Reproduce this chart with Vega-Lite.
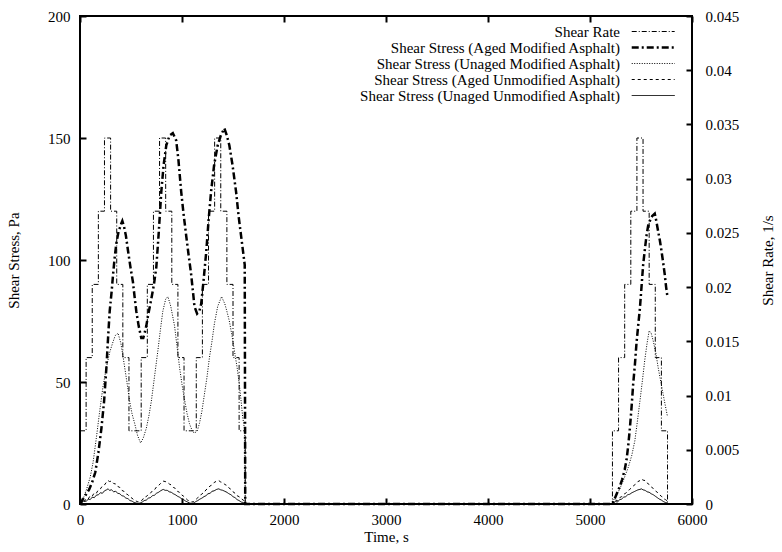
{
"$schema": "https://vega.github.io/schema/vega-lite/v6.json",
"width": 612, "height": 488,
"autosize": "none",
"padding": {"left": 80, "top": 16, "right": 90, "bottom": 48},
"config": {
  "font": "Liberation Serif",
  "view": {"stroke": "black", "strokeWidth": 2},
  "axis": {"grid": false, "domain": false, "zindex": 2, "ticks": true, "tickColor": "black", "tickWidth": 2, "tickSize": 6, "offset": -6,
           "labelFontSize": 15, "labelColor": "black", "titleFontSize": 15, "titleColor": "black",
           "titleFontWeight": "normal", "labelPadding": 8, "labelFlush": false}
},
"datasets": {
"rate": [
{"t":0,"v":0.00675},{"t":60,"v":0.0135},{"t":120,"v":0.02025},{"t":180,"v":0.027},{"t":240,"v":0.03375},{"t":300,"v":0.027},{"t":360,"v":0.02025},{"t":420,"v":0.0135},{"t":480,"v":0.00675},
{"t":540,"v":0.00675},{"t":600,"v":0.0135},{"t":660,"v":0.02025},{"t":720,"v":0.027},{"t":780,"v":0.03375},{"t":840,"v":0.027},{"t":900,"v":0.02025},{"t":960,"v":0.0135},{"t":1020,"v":0.00675},
{"t":1080,"v":0.00675},{"t":1140,"v":0.0135},{"t":1200,"v":0.02025},{"t":1260,"v":0.027},{"t":1320,"v":0.03375},{"t":1380,"v":0.027},{"t":1440,"v":0.02025},{"t":1500,"v":0.0135},{"t":1560,"v":0.00675},
{"t":1620,"v":0},
{"t":5220,"v":0.00675},{"t":5280,"v":0.0135},{"t":5340,"v":0.02025},{"t":5400,"v":0.027},{"t":5460,"v":0.03375},{"t":5520,"v":0.027},{"t":5580,"v":0.02025},{"t":5640,"v":0.0135},{"t":5700,"v":0.00675},{"t":5760,"v":0}
],
"stress": [
{"s":"Shear Stress (Aged Modified Asphalt)","t":0,"v":0},{"s":"Shear Stress (Aged Modified Asphalt)","t":30,"v":2},{"s":"Shear Stress (Aged Modified Asphalt)","t":60,"v":4},{"s":"Shear Stress (Aged Modified Asphalt)","t":90,"v":6},{"s":"Shear Stress (Aged Modified Asphalt)","t":120,"v":9},{"s":"Shear Stress (Aged Modified Asphalt)","t":150,"v":13},{"s":"Shear Stress (Aged Modified Asphalt)","t":180,"v":21},{"s":"Shear Stress (Aged Modified Asphalt)","t":210,"v":31},{"s":"Shear Stress (Aged Modified Asphalt)","t":236,"v":42},{"s":"Shear Stress (Aged Modified Asphalt)","t":259,"v":56},{"s":"Shear Stress (Aged Modified Asphalt)","t":275,"v":68},{"s":"Shear Stress (Aged Modified Asphalt)","t":291,"v":79},{"s":"Shear Stress (Aged Modified Asphalt)","t":310,"v":87},{"s":"Shear Stress (Aged Modified Asphalt)","t":324,"v":94},{"s":"Shear Stress (Aged Modified Asphalt)","t":340,"v":101},{"s":"Shear Stress (Aged Modified Asphalt)","t":357,"v":107},{"s":"Shear Stress (Aged Modified Asphalt)","t":375,"v":111},{"s":"Shear Stress (Aged Modified Asphalt)","t":389,"v":113},{"s":"Shear Stress (Aged Modified Asphalt)","t":405,"v":115},{"s":"Shear Stress (Aged Modified Asphalt)","t":415,"v":116},{"s":"Shear Stress (Aged Modified Asphalt)","t":430,"v":114},{"s":"Shear Stress (Aged Modified Asphalt)","t":450,"v":110},{"s":"Shear Stress (Aged Modified Asphalt)","t":470,"v":104},{"s":"Shear Stress (Aged Modified Asphalt)","t":495,"v":97},{"s":"Shear Stress (Aged Modified Asphalt)","t":519,"v":91},{"s":"Shear Stress (Aged Modified Asphalt)","t":535,"v":85},{"s":"Shear Stress (Aged Modified Asphalt)","t":552,"v":79},{"s":"Shear Stress (Aged Modified Asphalt)","t":575,"v":73},{"s":"Shear Stress (Aged Modified Asphalt)","t":601,"v":68},{"s":"Shear Stress (Aged Modified Asphalt)","t":620,"v":68},{"s":"Shear Stress (Aged Modified Asphalt)","t":633,"v":70},{"s":"Shear Stress (Aged Modified Asphalt)","t":650,"v":73},{"s":"Shear Stress (Aged Modified Asphalt)","t":666,"v":77},{"s":"Shear Stress (Aged Modified Asphalt)","t":699,"v":84},{"s":"Shear Stress (Aged Modified Asphalt)","t":725,"v":90},{"s":"Shear Stress (Aged Modified Asphalt)","t":748,"v":97},{"s":"Shear Stress (Aged Modified Asphalt)","t":770,"v":110},{"s":"Shear Stress (Aged Modified Asphalt)","t":797,"v":128},{"s":"Shear Stress (Aged Modified Asphalt)","t":820,"v":139},{"s":"Shear Stress (Aged Modified Asphalt)","t":846,"v":147},{"s":"Shear Stress (Aged Modified Asphalt)","t":878,"v":151},{"s":"Shear Stress (Aged Modified Asphalt)","t":910,"v":152},{"s":"Shear Stress (Aged Modified Asphalt)","t":943,"v":149},{"s":"Shear Stress (Aged Modified Asphalt)","t":965,"v":141},{"s":"Shear Stress (Aged Modified Asphalt)","t":992,"v":128},{"s":"Shear Stress (Aged Modified Asphalt)","t":1015,"v":119},{"s":"Shear Stress (Aged Modified Asphalt)","t":1041,"v":110},{"s":"Shear Stress (Aged Modified Asphalt)","t":1065,"v":102},{"s":"Shear Stress (Aged Modified Asphalt)","t":1090,"v":94},{"s":"Shear Stress (Aged Modified Asphalt)","t":1110,"v":86},{"s":"Shear Stress (Aged Modified Asphalt)","t":1122,"v":81},{"s":"Shear Stress (Aged Modified Asphalt)","t":1148,"v":78},{"s":"Shear Stress (Aged Modified Asphalt)","t":1170,"v":79},{"s":"Shear Stress (Aged Modified Asphalt)","t":1188,"v":82},{"s":"Shear Stress (Aged Modified Asphalt)","t":1210,"v":91},{"s":"Shear Stress (Aged Modified Asphalt)","t":1237,"v":103},{"s":"Shear Stress (Aged Modified Asphalt)","t":1260,"v":116},{"s":"Shear Stress (Aged Modified Asphalt)","t":1285,"v":128},{"s":"Shear Stress (Aged Modified Asphalt)","t":1315,"v":139},{"s":"Shear Stress (Aged Modified Asphalt)","t":1350,"v":147},{"s":"Shear Stress (Aged Modified Asphalt)","t":1380,"v":151},{"s":"Shear Stress (Aged Modified Asphalt)","t":1415,"v":154},{"s":"Shear Stress (Aged Modified Asphalt)","t":1440,"v":151},{"s":"Shear Stress (Aged Modified Asphalt)","t":1464,"v":147},{"s":"Shear Stress (Aged Modified Asphalt)","t":1495,"v":139},{"s":"Shear Stress (Aged Modified Asphalt)","t":1530,"v":128},{"s":"Shear Stress (Aged Modified Asphalt)","t":1555,"v":118},{"s":"Shear Stress (Aged Modified Asphalt)","t":1579,"v":110},{"s":"Shear Stress (Aged Modified Asphalt)","t":1600,"v":103},{"s":"Shear Stress (Aged Modified Asphalt)","t":1615,"v":98},{"s":"Shear Stress (Aged Modified Asphalt)","t":1620,"v":0},
{"s":"Shear Stress (Aged Modified Asphalt)","t":5210,"v":0},{"s":"Shear Stress (Aged Modified Asphalt)","t":5230,"v":1},{"s":"Shear Stress (Aged Modified Asphalt)","t":5250,"v":3},{"s":"Shear Stress (Aged Modified Asphalt)","t":5270,"v":5},{"s":"Shear Stress (Aged Modified Asphalt)","t":5290,"v":7},{"s":"Shear Stress (Aged Modified Asphalt)","t":5315,"v":10},{"s":"Shear Stress (Aged Modified Asphalt)","t":5340,"v":14},{"s":"Shear Stress (Aged Modified Asphalt)","t":5358,"v":18},{"s":"Shear Stress (Aged Modified Asphalt)","t":5375,"v":24},{"s":"Shear Stress (Aged Modified Asphalt)","t":5391,"v":31},{"s":"Shear Stress (Aged Modified Asphalt)","t":5408,"v":40},{"s":"Shear Stress (Aged Modified Asphalt)","t":5423,"v":49},{"s":"Shear Stress (Aged Modified Asphalt)","t":5440,"v":57},{"s":"Shear Stress (Aged Modified Asphalt)","t":5456,"v":66},{"s":"Shear Stress (Aged Modified Asphalt)","t":5472,"v":73},{"s":"Shear Stress (Aged Modified Asphalt)","t":5489,"v":80},{"s":"Shear Stress (Aged Modified Asphalt)","t":5505,"v":89},{"s":"Shear Stress (Aged Modified Asphalt)","t":5521,"v":98},{"s":"Shear Stress (Aged Modified Asphalt)","t":5537,"v":104},{"s":"Shear Stress (Aged Modified Asphalt)","t":5554,"v":110},{"s":"Shear Stress (Aged Modified Asphalt)","t":5570,"v":114},{"s":"Shear Stress (Aged Modified Asphalt)","t":5587,"v":116},{"s":"Shear Stress (Aged Modified Asphalt)","t":5610,"v":118},{"s":"Shear Stress (Aged Modified Asphalt)","t":5635,"v":119},{"s":"Shear Stress (Aged Modified Asphalt)","t":5650,"v":116},{"s":"Shear Stress (Aged Modified Asphalt)","t":5667,"v":112},{"s":"Shear Stress (Aged Modified Asphalt)","t":5685,"v":108},{"s":"Shear Stress (Aged Modified Asphalt)","t":5700,"v":104},{"s":"Shear Stress (Aged Modified Asphalt)","t":5717,"v":99},{"s":"Shear Stress (Aged Modified Asphalt)","t":5733,"v":94},{"s":"Shear Stress (Aged Modified Asphalt)","t":5746,"v":89},{"s":"Shear Stress (Aged Modified Asphalt)","t":5759,"v":85},
{"s":"Shear Stress (Unaged Modified Asphalt)","t":0,"v":0},{"s":"Shear Stress (Unaged Modified Asphalt)","t":30,"v":2},{"s":"Shear Stress (Unaged Modified Asphalt)","t":64,"v":6},{"s":"Shear Stress (Unaged Modified Asphalt)","t":100,"v":11},{"s":"Shear Stress (Unaged Modified Asphalt)","t":128,"v":17},{"s":"Shear Stress (Unaged Modified Asphalt)","t":160,"v":27},{"s":"Shear Stress (Unaged Modified Asphalt)","t":193,"v":38},{"s":"Shear Stress (Unaged Modified Asphalt)","t":225,"v":48},{"s":"Shear Stress (Unaged Modified Asphalt)","t":259,"v":56},{"s":"Shear Stress (Unaged Modified Asphalt)","t":290,"v":62},{"s":"Shear Stress (Unaged Modified Asphalt)","t":320,"v":66},{"s":"Shear Stress (Unaged Modified Asphalt)","t":345,"v":69},{"s":"Shear Stress (Unaged Modified Asphalt)","t":373,"v":70},{"s":"Shear Stress (Unaged Modified Asphalt)","t":400,"v":66},{"s":"Shear Stress (Unaged Modified Asphalt)","t":420,"v":61},{"s":"Shear Stress (Unaged Modified Asphalt)","t":438,"v":56},{"s":"Shear Stress (Unaged Modified Asphalt)","t":460,"v":50},{"s":"Shear Stress (Unaged Modified Asphalt)","t":487,"v":42},{"s":"Shear Stress (Unaged Modified Asphalt)","t":510,"v":37},{"s":"Shear Stress (Unaged Modified Asphalt)","t":536,"v":33},{"s":"Shear Stress (Unaged Modified Asphalt)","t":565,"v":28},{"s":"Shear Stress (Unaged Modified Asphalt)","t":594,"v":25},{"s":"Shear Stress (Unaged Modified Asphalt)","t":620,"v":27},{"s":"Shear Stress (Unaged Modified Asphalt)","t":650,"v":31},{"s":"Shear Stress (Unaged Modified Asphalt)","t":675,"v":36},{"s":"Shear Stress (Unaged Modified Asphalt)","t":699,"v":42},{"s":"Shear Stress (Unaged Modified Asphalt)","t":730,"v":52},{"s":"Shear Stress (Unaged Modified Asphalt)","t":764,"v":63},{"s":"Shear Stress (Unaged Modified Asphalt)","t":790,"v":72},{"s":"Shear Stress (Unaged Modified Asphalt)","t":812,"v":79},{"s":"Shear Stress (Unaged Modified Asphalt)","t":840,"v":84},{"s":"Shear Stress (Unaged Modified Asphalt)","t":862,"v":85},{"s":"Shear Stress (Unaged Modified Asphalt)","t":890,"v":81},{"s":"Shear Stress (Unaged Modified Asphalt)","t":927,"v":73},{"s":"Shear Stress (Unaged Modified Asphalt)","t":950,"v":65},{"s":"Shear Stress (Unaged Modified Asphalt)","t":976,"v":56},{"s":"Shear Stress (Unaged Modified Asphalt)","t":1000,"v":49},{"s":"Shear Stress (Unaged Modified Asphalt)","t":1024,"v":43},{"s":"Shear Stress (Unaged Modified Asphalt)","t":1050,"v":37},{"s":"Shear Stress (Unaged Modified Asphalt)","t":1073,"v":33},{"s":"Shear Stress (Unaged Modified Asphalt)","t":1100,"v":30},{"s":"Shear Stress (Unaged Modified Asphalt)","t":1122,"v":29},{"s":"Shear Stress (Unaged Modified Asphalt)","t":1150,"v":30},{"s":"Shear Stress (Unaged Modified Asphalt)","t":1171,"v":33},{"s":"Shear Stress (Unaged Modified Asphalt)","t":1195,"v":38},{"s":"Shear Stress (Unaged Modified Asphalt)","t":1220,"v":45},{"s":"Shear Stress (Unaged Modified Asphalt)","t":1245,"v":52},{"s":"Shear Stress (Unaged Modified Asphalt)","t":1269,"v":60},{"s":"Shear Stress (Unaged Modified Asphalt)","t":1295,"v":67},{"s":"Shear Stress (Unaged Modified Asphalt)","t":1318,"v":74},{"s":"Shear Stress (Unaged Modified Asphalt)","t":1350,"v":81},{"s":"Shear Stress (Unaged Modified Asphalt)","t":1388,"v":85},{"s":"Shear Stress (Unaged Modified Asphalt)","t":1420,"v":82},{"s":"Shear Stress (Unaged Modified Asphalt)","t":1440,"v":79},{"s":"Shear Stress (Unaged Modified Asphalt)","t":1464,"v":75},{"s":"Shear Stress (Unaged Modified Asphalt)","t":1490,"v":69},{"s":"Shear Stress (Unaged Modified Asphalt)","t":1513,"v":63},{"s":"Shear Stress (Unaged Modified Asphalt)","t":1540,"v":56},{"s":"Shear Stress (Unaged Modified Asphalt)","t":1562,"v":49},{"s":"Shear Stress (Unaged Modified Asphalt)","t":1580,"v":42},{"s":"Shear Stress (Unaged Modified Asphalt)","t":1594,"v":36},{"s":"Shear Stress (Unaged Modified Asphalt)","t":1615,"v":30},{"s":"Shear Stress (Unaged Modified Asphalt)","t":1620,"v":0},
{"s":"Shear Stress (Unaged Modified Asphalt)","t":5210,"v":0},{"s":"Shear Stress (Unaged Modified Asphalt)","t":5250,"v":3},{"s":"Shear Stress (Unaged Modified Asphalt)","t":5290,"v":6},{"s":"Shear Stress (Unaged Modified Asphalt)","t":5330,"v":10},{"s":"Shear Stress (Unaged Modified Asphalt)","t":5375,"v":15},{"s":"Shear Stress (Unaged Modified Asphalt)","t":5410,"v":20},{"s":"Shear Stress (Unaged Modified Asphalt)","t":5440,"v":26},{"s":"Shear Stress (Unaged Modified Asphalt)","t":5465,"v":34},{"s":"Shear Stress (Unaged Modified Asphalt)","t":5489,"v":42},{"s":"Shear Stress (Unaged Modified Asphalt)","t":5515,"v":51},{"s":"Shear Stress (Unaged Modified Asphalt)","t":5537,"v":59},{"s":"Shear Stress (Unaged Modified Asphalt)","t":5560,"v":66},{"s":"Shear Stress (Unaged Modified Asphalt)","t":5580,"v":71},{"s":"Shear Stress (Unaged Modified Asphalt)","t":5600,"v":70},{"s":"Shear Stress (Unaged Modified Asphalt)","t":5619,"v":67},{"s":"Shear Stress (Unaged Modified Asphalt)","t":5645,"v":62},{"s":"Shear Stress (Unaged Modified Asphalt)","t":5668,"v":56},{"s":"Shear Stress (Unaged Modified Asphalt)","t":5690,"v":51},{"s":"Shear Stress (Unaged Modified Asphalt)","t":5717,"v":45},{"s":"Shear Stress (Unaged Modified Asphalt)","t":5740,"v":40},{"s":"Shear Stress (Unaged Modified Asphalt)","t":5759,"v":36},
{"s":"Shear Stress (Aged Unmodified Asphalt)","t":0,"v":0},{"s":"Shear Stress (Aged Unmodified Asphalt)","t":20,"v":1.2},{"s":"Shear Stress (Aged Unmodified Asphalt)","t":40,"v":0.8},{"s":"Shear Stress (Aged Unmodified Asphalt)","t":60,"v":2.2},{"s":"Shear Stress (Aged Unmodified Asphalt)","t":80,"v":2},{"s":"Shear Stress (Aged Unmodified Asphalt)","t":100,"v":3.4},{"s":"Shear Stress (Aged Unmodified Asphalt)","t":120,"v":3.2},{"s":"Shear Stress (Aged Unmodified Asphalt)","t":140,"v":4.6},{"s":"Shear Stress (Aged Unmodified Asphalt)","t":160,"v":4.4},{"s":"Shear Stress (Aged Unmodified Asphalt)","t":180,"v":5.8},{"s":"Shear Stress (Aged Unmodified Asphalt)","t":200,"v":6.2},{"s":"Shear Stress (Aged Unmodified Asphalt)","t":220,"v":7.4},{"s":"Shear Stress (Aged Unmodified Asphalt)","t":240,"v":7.8},{"s":"Shear Stress (Aged Unmodified Asphalt)","t":260,"v":9},{"s":"Shear Stress (Aged Unmodified Asphalt)","t":275,"v":9.6},{"s":"Shear Stress (Aged Unmodified Asphalt)","t":290,"v":9.2},{"s":"Shear Stress (Aged Unmodified Asphalt)","t":310,"v":9.4},{"s":"Shear Stress (Aged Unmodified Asphalt)","t":330,"v":8.4},{"s":"Shear Stress (Aged Unmodified Asphalt)","t":350,"v":8.2},{"s":"Shear Stress (Aged Unmodified Asphalt)","t":370,"v":7.2},{"s":"Shear Stress (Aged Unmodified Asphalt)","t":390,"v":6.8},{"s":"Shear Stress (Aged Unmodified Asphalt)","t":410,"v":5.6},{"s":"Shear Stress (Aged Unmodified Asphalt)","t":430,"v":5.2},{"s":"Shear Stress (Aged Unmodified Asphalt)","t":450,"v":4.2},{"s":"Shear Stress (Aged Unmodified Asphalt)","t":470,"v":3.8},{"s":"Shear Stress (Aged Unmodified Asphalt)","t":490,"v":2.8},{"s":"Shear Stress (Aged Unmodified Asphalt)","t":510,"v":2.4},{"s":"Shear Stress (Aged Unmodified Asphalt)","t":530,"v":1.6},{"s":"Shear Stress (Aged Unmodified Asphalt)","t":550,"v":1.2},{"s":"Shear Stress (Aged Unmodified Asphalt)","t":570,"v":0.8},{"s":"Shear Stress (Aged Unmodified Asphalt)","t":590,"v":1.2},{"s":"Shear Stress (Aged Unmodified Asphalt)","t":610,"v":1.6},{"s":"Shear Stress (Aged Unmodified Asphalt)","t":630,"v":2.8},{"s":"Shear Stress (Aged Unmodified Asphalt)","t":650,"v":3},{"s":"Shear Stress (Aged Unmodified Asphalt)","t":670,"v":4},{"s":"Shear Stress (Aged Unmodified Asphalt)","t":690,"v":4.4},{"s":"Shear Stress (Aged Unmodified Asphalt)","t":710,"v":5.4},{"s":"Shear Stress (Aged Unmodified Asphalt)","t":730,"v":5.8},{"s":"Shear Stress (Aged Unmodified Asphalt)","t":750,"v":7},{"s":"Shear Stress (Aged Unmodified Asphalt)","t":770,"v":7.6},{"s":"Shear Stress (Aged Unmodified Asphalt)","t":790,"v":8.4},{"s":"Shear Stress (Aged Unmodified Asphalt)","t":815,"v":9.4},{"s":"Shear Stress (Aged Unmodified Asphalt)","t":835,"v":9.2},{"s":"Shear Stress (Aged Unmodified Asphalt)","t":855,"v":9},{"s":"Shear Stress (Aged Unmodified Asphalt)","t":875,"v":8.2},{"s":"Shear Stress (Aged Unmodified Asphalt)","t":895,"v":7.8},{"s":"Shear Stress (Aged Unmodified Asphalt)","t":915,"v":6.8},{"s":"Shear Stress (Aged Unmodified Asphalt)","t":935,"v":6.4},{"s":"Shear Stress (Aged Unmodified Asphalt)","t":955,"v":5.2},{"s":"Shear Stress (Aged Unmodified Asphalt)","t":975,"v":4.8},{"s":"Shear Stress (Aged Unmodified Asphalt)","t":995,"v":3.8},{"s":"Shear Stress (Aged Unmodified Asphalt)","t":1015,"v":3.2},{"s":"Shear Stress (Aged Unmodified Asphalt)","t":1035,"v":2.4},{"s":"Shear Stress (Aged Unmodified Asphalt)","t":1055,"v":1.6},{"s":"Shear Stress (Aged Unmodified Asphalt)","t":1075,"v":1.2},{"s":"Shear Stress (Aged Unmodified Asphalt)","t":1095,"v":0.8},{"s":"Shear Stress (Aged Unmodified Asphalt)","t":1115,"v":1},{"s":"Shear Stress (Aged Unmodified Asphalt)","t":1135,"v":1.8},{"s":"Shear Stress (Aged Unmodified Asphalt)","t":1155,"v":2.6},{"s":"Shear Stress (Aged Unmodified Asphalt)","t":1175,"v":3.2},{"s":"Shear Stress (Aged Unmodified Asphalt)","t":1195,"v":4.2},{"s":"Shear Stress (Aged Unmodified Asphalt)","t":1215,"v":4.6},{"s":"Shear Stress (Aged Unmodified Asphalt)","t":1235,"v":5.8},{"s":"Shear Stress (Aged Unmodified Asphalt)","t":1255,"v":6.4},{"s":"Shear Stress (Aged Unmodified Asphalt)","t":1275,"v":7.4},{"s":"Shear Stress (Aged Unmodified Asphalt)","t":1295,"v":7.8},{"s":"Shear Stress (Aged Unmodified Asphalt)","t":1315,"v":8.8},{"s":"Shear Stress (Aged Unmodified Asphalt)","t":1340,"v":9.4},{"s":"Shear Stress (Aged Unmodified Asphalt)","t":1360,"v":9.6},{"s":"Shear Stress (Aged Unmodified Asphalt)","t":1380,"v":9},{"s":"Shear Stress (Aged Unmodified Asphalt)","t":1400,"v":8.8},{"s":"Shear Stress (Aged Unmodified Asphalt)","t":1420,"v":8},{"s":"Shear Stress (Aged Unmodified Asphalt)","t":1440,"v":7.6},{"s":"Shear Stress (Aged Unmodified Asphalt)","t":1460,"v":6.6},{"s":"Shear Stress (Aged Unmodified Asphalt)","t":1480,"v":6},{"s":"Shear Stress (Aged Unmodified Asphalt)","t":1500,"v":5},{"s":"Shear Stress (Aged Unmodified Asphalt)","t":1520,"v":4.4},{"s":"Shear Stress (Aged Unmodified Asphalt)","t":1540,"v":3.4},{"s":"Shear Stress (Aged Unmodified Asphalt)","t":1560,"v":3},{"s":"Shear Stress (Aged Unmodified Asphalt)","t":1580,"v":2.2},{"s":"Shear Stress (Aged Unmodified Asphalt)","t":1600,"v":1.6},{"s":"Shear Stress (Aged Unmodified Asphalt)","t":1615,"v":1.2},{"s":"Shear Stress (Aged Unmodified Asphalt)","t":1620,"v":0},
{"s":"Shear Stress (Aged Unmodified Asphalt)","t":5210,"v":0},{"s":"Shear Stress (Aged Unmodified Asphalt)","t":5230,"v":0.8},{"s":"Shear Stress (Aged Unmodified Asphalt)","t":5250,"v":1.6},{"s":"Shear Stress (Aged Unmodified Asphalt)","t":5270,"v":1.4},{"s":"Shear Stress (Aged Unmodified Asphalt)","t":5290,"v":2.6},{"s":"Shear Stress (Aged Unmodified Asphalt)","t":5310,"v":3},{"s":"Shear Stress (Aged Unmodified Asphalt)","t":5330,"v":4},{"s":"Shear Stress (Aged Unmodified Asphalt)","t":5350,"v":4.4},{"s":"Shear Stress (Aged Unmodified Asphalt)","t":5370,"v":5.4},{"s":"Shear Stress (Aged Unmodified Asphalt)","t":5390,"v":6},{"s":"Shear Stress (Aged Unmodified Asphalt)","t":5410,"v":6.8},{"s":"Shear Stress (Aged Unmodified Asphalt)","t":5430,"v":7.6},{"s":"Shear Stress (Aged Unmodified Asphalt)","t":5450,"v":8.2},{"s":"Shear Stress (Aged Unmodified Asphalt)","t":5470,"v":9.2},{"s":"Shear Stress (Aged Unmodified Asphalt)","t":5490,"v":9.6},{"s":"Shear Stress (Aged Unmodified Asphalt)","t":5505,"v":10.2},{"s":"Shear Stress (Aged Unmodified Asphalt)","t":5520,"v":9.8},{"s":"Shear Stress (Aged Unmodified Asphalt)","t":5540,"v":9.6},{"s":"Shear Stress (Aged Unmodified Asphalt)","t":5560,"v":8.6},{"s":"Shear Stress (Aged Unmodified Asphalt)","t":5580,"v":8},{"s":"Shear Stress (Aged Unmodified Asphalt)","t":5600,"v":7},{"s":"Shear Stress (Aged Unmodified Asphalt)","t":5620,"v":6.4},{"s":"Shear Stress (Aged Unmodified Asphalt)","t":5640,"v":5.4},{"s":"Shear Stress (Aged Unmodified Asphalt)","t":5660,"v":4.8},{"s":"Shear Stress (Aged Unmodified Asphalt)","t":5680,"v":3.8},{"s":"Shear Stress (Aged Unmodified Asphalt)","t":5700,"v":3.2},{"s":"Shear Stress (Aged Unmodified Asphalt)","t":5720,"v":2.2},{"s":"Shear Stress (Aged Unmodified Asphalt)","t":5740,"v":1.8},{"s":"Shear Stress (Aged Unmodified Asphalt)","t":5759,"v":1.2},
{"s":"Shear Stress (Unaged Unmodified Asphalt)","t":0,"v":0},{"s":"Shear Stress (Unaged Unmodified Asphalt)","t":20,"v":0.6},{"s":"Shear Stress (Unaged Unmodified Asphalt)","t":40,"v":1.4},{"s":"Shear Stress (Unaged Unmodified Asphalt)","t":60,"v":1},{"s":"Shear Stress (Unaged Unmodified Asphalt)","t":80,"v":2},{"s":"Shear Stress (Unaged Unmodified Asphalt)","t":100,"v":1.8},{"s":"Shear Stress (Unaged Unmodified Asphalt)","t":120,"v":2.8},{"s":"Shear Stress (Unaged Unmodified Asphalt)","t":140,"v":2.6},{"s":"Shear Stress (Unaged Unmodified Asphalt)","t":160,"v":3.6},{"s":"Shear Stress (Unaged Unmodified Asphalt)","t":180,"v":3.8},{"s":"Shear Stress (Unaged Unmodified Asphalt)","t":200,"v":4.6},{"s":"Shear Stress (Unaged Unmodified Asphalt)","t":220,"v":4.4},{"s":"Shear Stress (Unaged Unmodified Asphalt)","t":240,"v":5.4},{"s":"Shear Stress (Unaged Unmodified Asphalt)","t":260,"v":5.8},{"s":"Shear Stress (Unaged Unmodified Asphalt)","t":275,"v":6.2},{"s":"Shear Stress (Unaged Unmodified Asphalt)","t":290,"v":5.6},{"s":"Shear Stress (Unaged Unmodified Asphalt)","t":310,"v":5.8},{"s":"Shear Stress (Unaged Unmodified Asphalt)","t":330,"v":5},{"s":"Shear Stress (Unaged Unmodified Asphalt)","t":350,"v":5.2},{"s":"Shear Stress (Unaged Unmodified Asphalt)","t":370,"v":4.4},{"s":"Shear Stress (Unaged Unmodified Asphalt)","t":390,"v":4.2},{"s":"Shear Stress (Unaged Unmodified Asphalt)","t":410,"v":3.4},{"s":"Shear Stress (Unaged Unmodified Asphalt)","t":430,"v":3.2},{"s":"Shear Stress (Unaged Unmodified Asphalt)","t":450,"v":2.4},{"s":"Shear Stress (Unaged Unmodified Asphalt)","t":470,"v":2.2},{"s":"Shear Stress (Unaged Unmodified Asphalt)","t":490,"v":1.4},{"s":"Shear Stress (Unaged Unmodified Asphalt)","t":510,"v":1.2},{"s":"Shear Stress (Unaged Unmodified Asphalt)","t":530,"v":0.6},{"s":"Shear Stress (Unaged Unmodified Asphalt)","t":550,"v":0.4},{"s":"Shear Stress (Unaged Unmodified Asphalt)","t":570,"v":0.2},{"s":"Shear Stress (Unaged Unmodified Asphalt)","t":590,"v":0.4},{"s":"Shear Stress (Unaged Unmodified Asphalt)","t":610,"v":0.8},{"s":"Shear Stress (Unaged Unmodified Asphalt)","t":630,"v":1.4},{"s":"Shear Stress (Unaged Unmodified Asphalt)","t":650,"v":1.6},{"s":"Shear Stress (Unaged Unmodified Asphalt)","t":670,"v":2.4},{"s":"Shear Stress (Unaged Unmodified Asphalt)","t":690,"v":2.6},{"s":"Shear Stress (Unaged Unmodified Asphalt)","t":710,"v":3.4},{"s":"Shear Stress (Unaged Unmodified Asphalt)","t":730,"v":3.6},{"s":"Shear Stress (Unaged Unmodified Asphalt)","t":750,"v":4.4},{"s":"Shear Stress (Unaged Unmodified Asphalt)","t":770,"v":4.8},{"s":"Shear Stress (Unaged Unmodified Asphalt)","t":790,"v":5.4},{"s":"Shear Stress (Unaged Unmodified Asphalt)","t":815,"v":6},{"s":"Shear Stress (Unaged Unmodified Asphalt)","t":835,"v":5.6},{"s":"Shear Stress (Unaged Unmodified Asphalt)","t":855,"v":5.6},{"s":"Shear Stress (Unaged Unmodified Asphalt)","t":875,"v":5},{"s":"Shear Stress (Unaged Unmodified Asphalt)","t":895,"v":4.8},{"s":"Shear Stress (Unaged Unmodified Asphalt)","t":915,"v":4.2},{"s":"Shear Stress (Unaged Unmodified Asphalt)","t":935,"v":3.8},{"s":"Shear Stress (Unaged Unmodified Asphalt)","t":955,"v":3.2},{"s":"Shear Stress (Unaged Unmodified Asphalt)","t":975,"v":2.8},{"s":"Shear Stress (Unaged Unmodified Asphalt)","t":995,"v":2.2},{"s":"Shear Stress (Unaged Unmodified Asphalt)","t":1015,"v":1.8},{"s":"Shear Stress (Unaged Unmodified Asphalt)","t":1035,"v":1.2},{"s":"Shear Stress (Unaged Unmodified Asphalt)","t":1055,"v":0.8},{"s":"Shear Stress (Unaged Unmodified Asphalt)","t":1075,"v":0.4},{"s":"Shear Stress (Unaged Unmodified Asphalt)","t":1095,"v":0.2},{"s":"Shear Stress (Unaged Unmodified Asphalt)","t":1115,"v":0.4},{"s":"Shear Stress (Unaged Unmodified Asphalt)","t":1135,"v":1},{"s":"Shear Stress (Unaged Unmodified Asphalt)","t":1155,"v":1.4},{"s":"Shear Stress (Unaged Unmodified Asphalt)","t":1175,"v":2},{"s":"Shear Stress (Unaged Unmodified Asphalt)","t":1195,"v":2.4},{"s":"Shear Stress (Unaged Unmodified Asphalt)","t":1215,"v":3},{"s":"Shear Stress (Unaged Unmodified Asphalt)","t":1235,"v":3.4},{"s":"Shear Stress (Unaged Unmodified Asphalt)","t":1255,"v":4.2},{"s":"Shear Stress (Unaged Unmodified Asphalt)","t":1275,"v":4.4},{"s":"Shear Stress (Unaged Unmodified Asphalt)","t":1295,"v":5.2},{"s":"Shear Stress (Unaged Unmodified Asphalt)","t":1315,"v":5.4},{"s":"Shear Stress (Unaged Unmodified Asphalt)","t":1340,"v":6},{"s":"Shear Stress (Unaged Unmodified Asphalt)","t":1360,"v":6.2},{"s":"Shear Stress (Unaged Unmodified Asphalt)","t":1380,"v":5.8},{"s":"Shear Stress (Unaged Unmodified Asphalt)","t":1400,"v":5.6},{"s":"Shear Stress (Unaged Unmodified Asphalt)","t":1420,"v":5.2},{"s":"Shear Stress (Unaged Unmodified Asphalt)","t":1440,"v":4.8},{"s":"Shear Stress (Unaged Unmodified Asphalt)","t":1460,"v":4.2},{"s":"Shear Stress (Unaged Unmodified Asphalt)","t":1480,"v":3.8},{"s":"Shear Stress (Unaged Unmodified Asphalt)","t":1500,"v":3},{"s":"Shear Stress (Unaged Unmodified Asphalt)","t":1520,"v":2.6},{"s":"Shear Stress (Unaged Unmodified Asphalt)","t":1540,"v":1.8},{"s":"Shear Stress (Unaged Unmodified Asphalt)","t":1560,"v":1.4},{"s":"Shear Stress (Unaged Unmodified Asphalt)","t":1580,"v":0.8},{"s":"Shear Stress (Unaged Unmodified Asphalt)","t":1600,"v":0.6},{"s":"Shear Stress (Unaged Unmodified Asphalt)","t":1615,"v":0.4},{"s":"Shear Stress (Unaged Unmodified Asphalt)","t":1620,"v":0},
{"s":"Shear Stress (Unaged Unmodified Asphalt)","t":5210,"v":0},{"s":"Shear Stress (Unaged Unmodified Asphalt)","t":5230,"v":0.4},{"s":"Shear Stress (Unaged Unmodified Asphalt)","t":5250,"v":1},{"s":"Shear Stress (Unaged Unmodified Asphalt)","t":5270,"v":0.8},{"s":"Shear Stress (Unaged Unmodified Asphalt)","t":5290,"v":1.8},{"s":"Shear Stress (Unaged Unmodified Asphalt)","t":5310,"v":2},{"s":"Shear Stress (Unaged Unmodified Asphalt)","t":5330,"v":2.8},{"s":"Shear Stress (Unaged Unmodified Asphalt)","t":5350,"v":3},{"s":"Shear Stress (Unaged Unmodified Asphalt)","t":5370,"v":3.8},{"s":"Shear Stress (Unaged Unmodified Asphalt)","t":5390,"v":4},{"s":"Shear Stress (Unaged Unmodified Asphalt)","t":5410,"v":4.6},{"s":"Shear Stress (Unaged Unmodified Asphalt)","t":5430,"v":5},{"s":"Shear Stress (Unaged Unmodified Asphalt)","t":5450,"v":5.4},{"s":"Shear Stress (Unaged Unmodified Asphalt)","t":5470,"v":5.8},{"s":"Shear Stress (Unaged Unmodified Asphalt)","t":5490,"v":6},{"s":"Shear Stress (Unaged Unmodified Asphalt)","t":5505,"v":6.2},{"s":"Shear Stress (Unaged Unmodified Asphalt)","t":5520,"v":5.8},{"s":"Shear Stress (Unaged Unmodified Asphalt)","t":5540,"v":5.6},{"s":"Shear Stress (Unaged Unmodified Asphalt)","t":5560,"v":5},{"s":"Shear Stress (Unaged Unmodified Asphalt)","t":5580,"v":4.8},{"s":"Shear Stress (Unaged Unmodified Asphalt)","t":5600,"v":4.2},{"s":"Shear Stress (Unaged Unmodified Asphalt)","t":5620,"v":3.8},{"s":"Shear Stress (Unaged Unmodified Asphalt)","t":5640,"v":3.2},{"s":"Shear Stress (Unaged Unmodified Asphalt)","t":5660,"v":2.6},{"s":"Shear Stress (Unaged Unmodified Asphalt)","t":5680,"v":2},{"s":"Shear Stress (Unaged Unmodified Asphalt)","t":5700,"v":1.6},{"s":"Shear Stress (Unaged Unmodified Asphalt)","t":5720,"v":1},{"s":"Shear Stress (Unaged Unmodified Asphalt)","t":5740,"v":0.6},{"s":"Shear Stress (Unaged Unmodified Asphalt)","t":5759,"v":0.4}
]
},
"encoding": {
  "strokeDash": {"field": "s", "type": "nominal",
    "scale": {"domain": ["Shear Rate","Shear Stress (Aged Modified Asphalt)","Shear Stress (Unaged Modified Asphalt)","Shear Stress (Aged Unmodified Asphalt)","Shear Stress (Unaged Unmodified Asphalt)"],
              "range": [[5,2,1,2],[7,3,2,3],[1,1.5],[3,3],[1,0]]},
    "legend": {"title": null, "orient": "none", "legendX": 565.7, "legendY": 8, "labelAlign": "right", "labelOffset": -40.7,
               "symbolOffset": 0, "symbolType": "M -3.58 0 L 3.58 0", "symbolSize": 144, "rowPadding": 0,
               "labelFontSize": 15, "labelColor": "black", "symbolStrokeColor": "black", "labelLimit": 400}},
  "strokeWidth": {"field": "s", "type": "nominal",
    "scale": {"type": "ordinal", "domain": ["Shear Rate","Shear Stress (Aged Modified Asphalt)","Shear Stress (Unaged Modified Asphalt)","Shear Stress (Aged Unmodified Asphalt)","Shear Stress (Unaged Unmodified Asphalt)"],
              "range": [1, 2.5, 1, 1, 1]}}
},
"layer": [
 {"data": {"name": "rate"}, "transform": [{"calculate": "'Shear Rate'", "as": "s"}],
  "mark": {"type": "line", "color": "black", "interpolate": "step-after"},
  "encoding": {
   "x": {"field": "t", "type": "quantitative", "scale": {"domain": [0, 6000]},
         "axis": {"orient": "top", "labels": false, "title": null, "values": [0,1000,2000,3000,4000,5000,6000]}},
   "y": {"field": "v", "type": "quantitative", "scale": {"domain": [0, 0.045]},
         "axis": {"orient": "right", "values": [0,0.005,0.01,0.015,0.02,0.025,0.03,0.035,0.04,0.045], "format": "~g",
                  "title": "Shear Rate, 1/s", "titleAngle": 270, "labelPadding": 13, "titlePadding": 37}}
  }},
 {"data": {"name": "stress"},
  "mark": {"type": "line", "color": "black"},
  "encoding": {
   "x": {"field": "t", "type": "quantitative", "scale": {"domain": [0, 6000]},
         "axis": {"orient": "bottom", "values": [0,1000,2000,3000,4000,5000,6000], "format": "d",
                  "title": "Time, s", "titlePadding": 2}},
   "y": {"field": "v", "type": "quantitative", "scale": {"domain": [0, 200]},
         "axis": {"orient": "left", "values": [0,50,100,150,200],
                  "title": "Shear Stress, Pa", "labelPadding": 10, "titlePadding": 26}}
  }}
],
"resolve": {"scale": {"y": "independent"}, "axis": {"x": "independent", "y": "independent"}}
}
